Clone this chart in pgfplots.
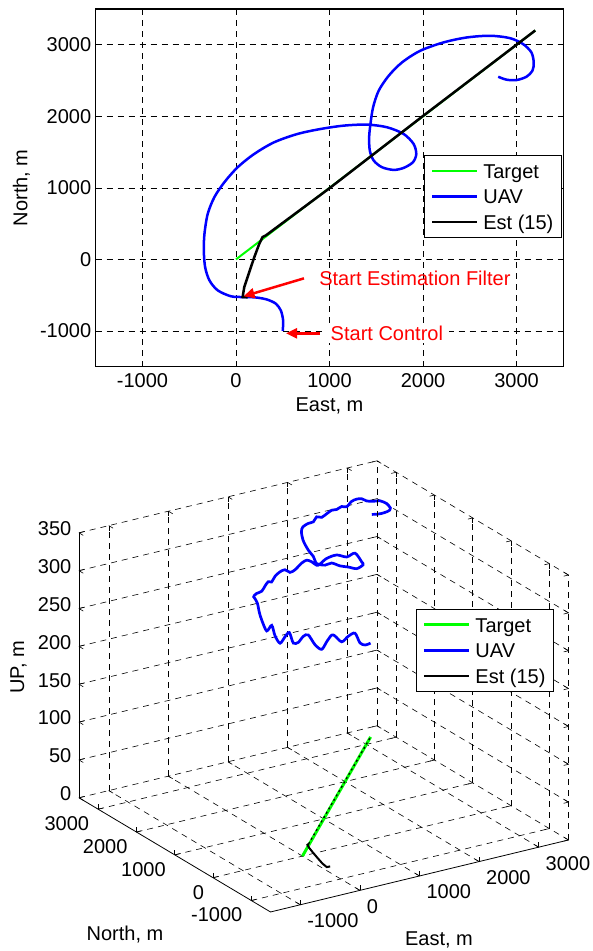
\documentclass[border=0pt]{standalone}
\usepackage{fontspec}
\setmainfont{Liberation Sans}
\usepackage{pgfplots}
\pgfplotsset{compat=1.18}
\usetikzlibrary{arrows.meta}

\newcommand{\fz}{\fontsize{20}{23}\selectfont}

\pgfplotsset{
  matlab/.style={
    /pgf/number format/assume math mode=true,
    /pgf/number format/1000 sep={},
    tick label style={font=\fz},
    label style={font=\fz},
    legend style={font=\fz, draw=black, line width=1pt, legend cell align=left,
      inner xsep=6pt, inner ysep=3pt, row sep=0.5pt, column sep=3pt,
      nodes={inner sep=2pt, text height=17.7pt, text depth=3.3pt}},
    legend image code/.code={\draw[##1] (0pt,0pt) -- (45pt,0pt);},
    tick style={black, line width=0.6pt},
  },
}

\begin{document}
\begin{tikzpicture}
\useasboundingbox (0pt,0pt) rectangle (593pt,-951pt);

% ---- top: plan view ----
\begin{axis}[matlab,
  at={(95.7pt,-366.7pt)}, anchor=south west,
  scale only axis, width=467.6pt, height=357.7pt,
  xmin=-1500, xmax=3500, ymin=-1500, ymax=3500,
  xtick={-1000,0,1000,2000,3000}, ytick={-1000,0,1000,2000,3000},
  axis line style={line width=1.2pt},
  grid=major,
  major grid style={black, line width=0.6pt, dash pattern=on 6pt off 5pt},
  tick align=inside, major tick length=5pt,
  xticklabel style={yshift=-3pt},
  yticklabel style={xshift=-1pt},
  xlabel={East, m}, ylabel={North, m},
  xlabel style={at={(axis description cs:0.5,-0.1266)}, anchor=base},
  ylabel style={at={(axis description cs:-0.146,0.5)}, anchor=base},
  legend style={at={(axis cs:2014,1461)}, anchor=north west},
  clip=false,
]
\addplot[green, line width=2pt] coordinates {(0,0) (3200,3200)};
\addlegendentry{Target}
\addplot[blue, line width=2.5pt, smooth] coordinates {
 (500,-1000) (504,-851) (479,-712) (426,-619) (337,-563) (231,-535) (124,-526)
 (71,-526) (-53,-516) (-195,-433) (-284,-293) (-330,-107) (-344,126) (-337,358)
 (-302,637) (-231,870) (-124,1079) (18,1288) (195,1474) (408,1637) (657,1753)
 (905,1823) (1154,1870) (1402,1884) (1615,1847) (1793,1753) (1899,1614)
 (1928,1474) (1892,1358) (1793,1279) (1686,1251) (1562,1288) (1473,1381)
 (1431,1521) (1424,1707) (1438,1893) (1466,2126) (1526,2358) (1633,2567)
 (1775,2753) (1970,2916) (2219,3033) (2467,3102) (2716,3126) (2929,3093)
 (3071,3009) (3159,2893) (3184,2753) (3170,2637) (3106,2553) (3000,2507)
 (2893,2512) (2804,2553)
};
\addlegendentry{UAV}
\addplot[black, line width=2.5pt] coordinates {
 (124,-530) (71,-526) (89,-386) (142,-177) (195,28) (248,214) (284,312)
 (319,335) (1000,995) (2000,2005) (3200,3200)
};
\addlegendentry{Est (15)}

\draw[red, line width=2.5pt, -{Triangle[length=11pt,width=10pt]}]
  (axis cs:727,-265) -- (axis cs:81,-516);
\node[red, anchor=west, inner sep=0pt, font=\fz] at (axis cs:889,-261) {Start Estimation Filter};
\draw[red, line width=2.5pt, -{Triangle[length=11pt,width=10pt]}]
  (axis cs:897,-1033) -- (axis cs:535,-1033);
\node[red, anchor=west, fill=white, inner xsep=6pt, inner ysep=2pt, xshift=-6pt, font=\fz]
  at (axis cs:1011,-1037) {Start Control};
\end{axis}

% ---- bottom: 3-D view ----
\begin{axis}[matlab,
  at={(302.45pt,-856.1pt)}, anchor=origin,
  x={(0.0596pt,0.0144pt)}, y={(-0.0383pt,0.02285pt)}, z={(0pt,0.757pt)},
  xmin=-1500, xmax=3500, ymin=-1500, ymax=3500, zmin=0, zmax=350,
  xtick={-1000,0,1000,2000,3000}, ytick={-1000,0,1000,2000,3000},
  ztick={0,50,100,150,200,250,300,350},
  grid=major,
  major grid style={black, line width=0.6pt, dash pattern=on 6pt off 5pt},
  axis line style={draw=none},
  major tick length=5pt,
  xticklabel style={anchor=west, xshift=3.5pt, yshift=-16pt},
  yticklabel style={anchor=east, xshift=-5.5pt, yshift=-14.5pt},
  zticklabel style={anchor=east, xshift=-4.2pt, yshift=4pt},
  legend style={at={(axis cs:941,-1500,353.8)}, anchor=north west},
  clip=false,
]
\addplot3[green, line width=3pt] coordinates {(0,0,0) (3200,3200,0)};
\addlegendentry{Target}
\addplot3[blue, line width=2.7pt, smooth, tension=0.5] coordinates {
 (500,-1000,302) (504,-851,295) (485,-747,295) (453,-666,306) (387,-594,301)
 (303,-554,294) (204,-533,303) (151,-528,305) (71,-526,298) (-11,-519,289)
 (-103,-487,296) (-185,-439,309) (-230,-378,306) (-271,-314,297) (-300,-228,294)
 (-318,-153,306) (-333,-63,298) (-340,56,286) (-342,184,292) (-339,274,303)
 (-329,422,291) (-309,581,300) (-291,672,307) (-261,772,316) (-180,970,315)
 (-60,1180,308) (18,1288,305) (150,1430,301) (331,1578,296) (433,1649,299)
 (510,1685,302) (590,1722,299) (670,1757,304) (769,1785,307) (872,1814,307)
 (970,1835,301) (1067,1854,302) (1191,1872,308) (1278,1877,310) (1365,1882,306)
 (1445,1877,300) (1494,1868,301) (1594,1851,307) (1724,1790,311) (1834,1699,309)
 (1904,1590,316) (1915,1433,309) (1860,1310,310) (1720,1260,309) (1592,1279,313)
 (1500,1353,314) (1443,1482,315) (1427,1631,308) (1436,1862,303) (1447,1968,309)
 (1466,2126,312) (1526,2358,317) (1633,2567,320) (1775,2753,318) (1970,2916,314)
 (2095,2975,312) (2173,3011,316) (2283,3051,312) (2385,3079,314) (2488,3104,316)
 (2574,3112,315) (2663,3121,317) (2748,3121,315) (2822,3110,321) (2901,3097,323)
 (2967,3070,323) (3028,3034,320) (3098,2973,320) (3159,2893,322) (3184,2756,322)
 (3170,2637,320) (3106,2553,321) (3034,2522,321) (2943,2510,321) (2868,2523,321)
 (2804,2553,321)
};
\addlegendentry{UAV}
\addlegendimage{black, line width=2.5pt}
\addlegendentry{Est (15)}
\addplot3[black, line width=2pt, forget plot] coordinates {
 (124,-530,0) (71,-526,0) (89,-386,0) (142,-177,0) (195,28,0) (248,214,0)
 (284,312,0) (319,335,0)
};
\addplot3[black, line width=1.3pt, dash pattern=on 2pt off 3pt, forget plot] coordinates {
 (319,335,0) (3200,3200,0)
};

\draw[black, line width=0.8pt] (axis cs:-1500,3500,0) -- (axis cs:-1500,3500,350);
\draw[black, line width=0.8pt] (axis cs:-1500,3500,0) -- (axis cs:-1500,-1500,0)
  -- (axis cs:3500,-1500,0);
\draw[black, line width=0.6pt, dash pattern=on 6pt off 5pt]
  (axis cs:3500,3500,0) -- (axis cs:3500,3500,350);
\draw[black, line width=0.6pt, dash pattern=on 6pt off 5pt]
  (axis cs:3500,-1500,0) -- (axis cs:3500,-1500,350);
\end{axis}

\node[font=\fz, anchor=base] at (125pt,-940pt) {North, m};
\node[font=\fz, anchor=base] at (439pt,-945pt) {East, m};
\node[font=\fz, anchor=base, rotate=90] at (24pt,-667.4pt) {UP, m};
\end{tikzpicture}
\end{document}
